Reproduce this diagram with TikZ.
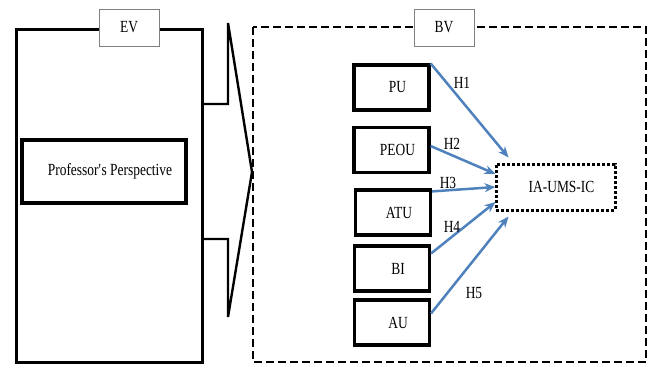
\documentclass[tikz,border=0pt]{standalone}
\usepackage{fontspec}
\setmainfont[FakeStretch=0.79]{Liberation Serif}
\usetikzlibrary{arrows.meta,calc}
\definecolor{linkblue}{HTML}{4F81BD}
\tikzset{
  every node/.style={font=\fontsize{17}{19}\selectfont},
  tagbox/.style={draw=black!50, line width=0.9pt, fill=white, minimum width=60pt, minimum height=37pt, inner sep=0pt},
  varbox/.style={draw, line width=3.2pt, minimum width=75pt, minimum height=45pt, inner sep=0pt},
  link/.style={draw=linkblue, line width=2.5pt, -{Stealth[length=11pt,width=9pt]}},
  hyp/.style={inner sep=1pt}
}
\newcommand{\pushright}[1]{\hspace*{12pt}#1}
\begin{document}
\begin{tikzpicture}[x=1pt,y=-1pt]
\useasboundingbox (0,0) rectangle (652,365);

% left frame with the block arrow leaving it
\draw[line width=3pt] (16,29) rectangle (202,362);
\draw[line width=2.4pt, line join=miter]
  (202,104) -- (228,104) -- (228,23) -- (252,172) -- (228,317) -- (228,239) -- (202,239);
\node[tagbox] (ev) at (129,27.5) {EV};
\node[draw, line width=3.2pt, minimum width=164pt, minimum height=63pt, inner sep=0pt]
  (prof) at (104,171.5) {\pushright{Professor\textquotesingle s Perspective}};

% right frame
\draw[line width=2.8pt, dash pattern=on 8pt off 4pt] (253,27) rectangle (646,362);
\node[tagbox] (bv) at (444,27.5) {BV};

% variables
\node[varbox] (pu)   at (391.5,87.5)  {\pushright{PU}};
\node[varbox] (peou) at (391.5,150)   {\pushright{PEOU}};
\node[varbox] (atu)  at (393,212.5)   {\pushright{ATU}};
\node[varbox] (bi)   at (392,268.5)   {\pushright{BI}};
\node[varbox] (au)   at (392,322.5)   {\pushright{AU}};

\node[draw, line width=3pt, dotted, minimum width=119pt, minimum height=46pt, inner sep=0pt]
  (ia) at (555.5,187) {\pushright{IA-UMS-IC}};

% hypothesised paths
\draw[link] (pu.north east) -- ([xshift=14pt,yshift=5pt]ia.north west);
\draw[link] ([yshift=4pt]peou.east) -- ([xshift=1pt,yshift=13pt]ia.west);
\draw[link] ([yshift=-3pt]atu.north east) -- ([xshift=1pt]ia.west);
\draw[link] ([yshift=-9pt]bi.north east) -- ([xshift=1pt,yshift=-15pt]ia.west);
\draw[link] ([yshift=-15pt]au.north east) -- ([xshift=14pt,yshift=-5pt]ia.south west);

\node[hyp] (h1) at (462,83)  {H1};
\node[hyp] (h2) at (452,144) {H2};
\node[hyp] (h3) at (448,183) {H3};
\node[hyp] (h4) at (452,227) {H4};
\node[hyp] (h5) at (474,293) {H5};
\end{tikzpicture}
\end{document}
